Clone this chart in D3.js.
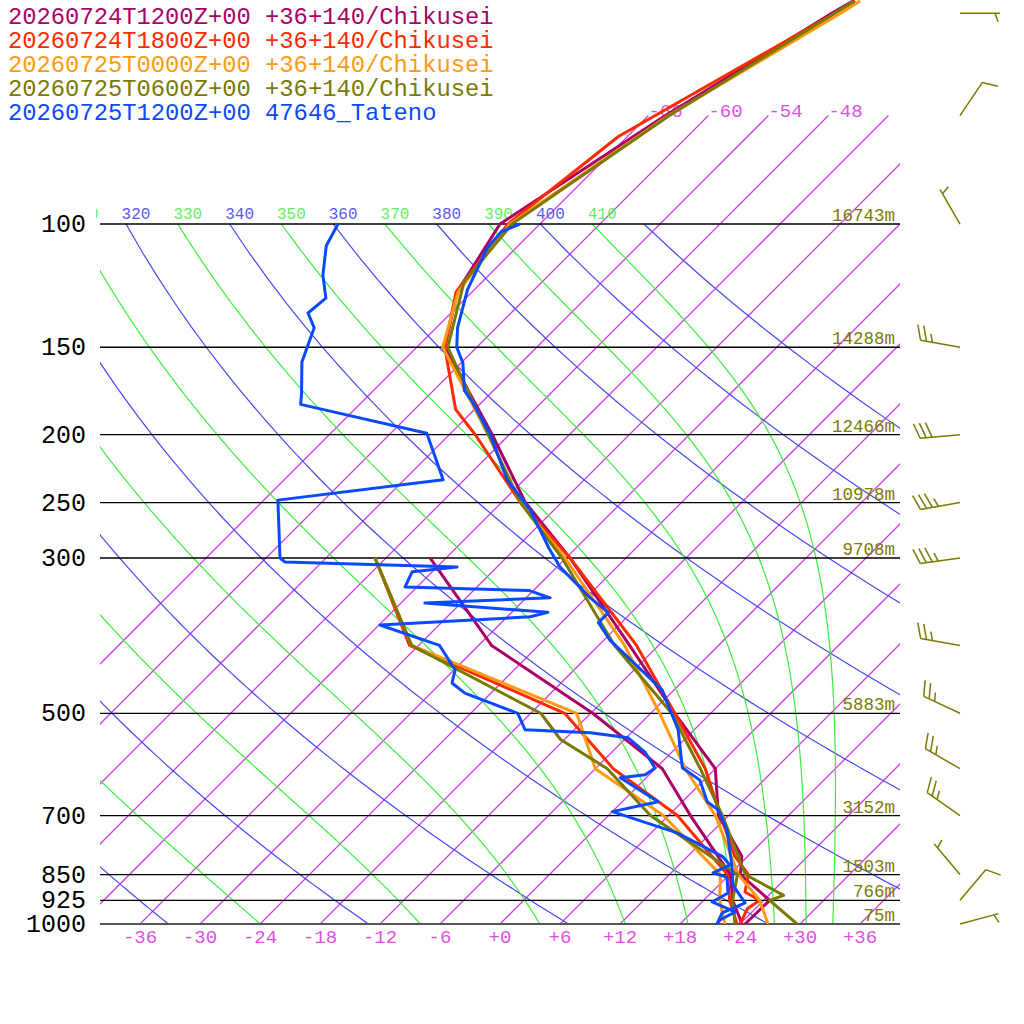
<!DOCTYPE html>
<html><head><meta charset="utf-8">
<script src="https://cdn.jsdelivr.net/npm/d3@7"></script>
<style>body{margin:0;background:#fff}svg{display:block}</style>
</head><body>
<svg id="c" width="1024" height="1024"></svg>
<script>
// ---------------- data ----------------
const legendLabels = [
  "20260724T1200Z+00 +36+140/Chikusei",
  "20260724T1800Z+00 +36+140/Chikusei",
  "20260725T0000Z+00 +36+140/Chikusei",
  "20260725T0600Z+00 +36+140/Chikusei",
  "20260725T1200Z+00 47646_Tateno"
];
const seriesColors = ["#aa0066", "#ff2a00", "#ff9a10", "#7a7a00", "#0a4aff"];

const pressureLevels = [100, 150, 200, 250, 300, 500, 700, 850, 925, 1000];
const heightLabels = ["16743m", "14288m", "12466m", "10978m", "9708m", "5883m", "3152m", "1503m", "766m", "75m"];
const tempTicks = [-36, -30, -24, -18, -12, -6, 0, 6, 12, 18, 24, 30, 36];
const topIsothermLabels = [-66, -60, -54, -48];
const dryThetas = [200, 220, 240, 260, 280, 300, 320, 340, 360, 380, 400, 420];
const moistThetas = [250, 270, 290, 310, 330, 350, 370, 390, 410];

// model temperature profiles [pressure hPa, T degC]
const crimsonT = [[1000,24.5],[925,24.6],[850,19.1],[800,17.4],[700,11.0],[600,6.0],[500,-3.6],[400,-14.9],[300,-29.6],[250,-39.6],[200,-49.7],[150,-63.2],[125,-67.5],[100,-70.0],[70,-64.3],[50,-57.9],[48,-57.0]];
const redT = [[1000,24.0],[950,23.2],[925,23.6],[900,21.3],[850,19.9],[800,16.7],[700,11.2],[600,5.0],[500,-3.6],[400,-14.2],[300,-29.6],[250,-40.1],[200,-51.4],[184,-55.9],[150,-63.2],[125,-67.6],[100,-69.2],[75,-66.9],[50,-57.6],[48,-56.8]];
const orangeT = [[1000,26.8],[925,23.6],[850,18.9],[700,10.7],[600,3.0],[500,-5.1],[400,-15.4],[300,-30.1],[250,-40.1],[200,-50.1],[150,-63.4],[125,-67.4],[100,-69.0],[70,-64.0],[50,-57.0],[48,-56.3]];
const oliveT = [[1000,29.7],[925,24.6],[910,25.5],[850,19.6],[700,11.4],[600,4.5],[500,-3.9],[400,-16.4],[300,-30.4],[250,-40.1],[200,-50.1],[150,-62.9],[121,-67.8],[100,-68.8],[70,-63.9],[50,-57.6],[48,-56.9]];
// model dewpoint profiles
const crimsonTd = [[1000,24.2],[925,20.9],[850,18.1],[700,8.2],[600,0.7],[500,-11.8],[400,-28.7],[300,-43.6]];
const redTd = [[1000,23.7],[925,20.6],[850,17.8],[700,6.9],[600,-4.2],[500,-14.6],[400,-36.9],[300,-49.1]];
const orangeTd = [[1000,22.5],[925,19.6],[850,17.1],[700,5.5],[600,-6.0],[500,-13.4],[400,-36.7],[300,-49.1]];
const oliveTd = [[1000,23.5],[925,20.9],[850,18.8],[700,4.2],[600,-4.8],[545,-12.4],[500,-17.0],[400,-36.7],[300,-49.1]];
// Tateno radiosonde
const tatenoT = [[1000,21.7],[964,21.1],[933,22.4],[880,19.4],[824,17.3],[734,13.3],[687,10.4],[669,8.5],[623,5.6],[598,2.6],[528,-1.6],[463,-7.2],[393,-17.4],[371,-20.3],[359,-20.3],[342,-23.6],[309,-29.7],[291,-32.6],[256,-38.4],[232,-43.7],[199,-50.1],[178,-55.4],[173,-56.9],[158,-59.8],[150,-62.0],[140.5,-63.9],[124,-66.7],[108,-68.9],[102.5,-69.1],[100,-68.0]];
const tatenoTd = [[1000,21.7],[987,21.6],[961,22.3],[930,19.0],[903,19.7],[857,18.0],[845.5,16.2],[824,17.1],[802,15.6],[741,8.6],[691,0.0],[669,3.6],[618,-2.6],[612,-0.4],[598.6,-0.1],[568,-2.7],[542,-5.8],[533,-10.1],[528,-16.9],[500,-19.3],[468,-26.6],[452.6,-28.9],[433.5,-29.9],[400,-33.9],[374,-41.9],[364,-27.7],[358.6,-26.4],[348,-39.6],[342,-27.6],[334,-30.4],[330,-43.2],[314,-44.0],[309,-40.0],[304,-57.7],[300,-58.6],[248,-64.6],[232,-50.1],[199,-56.4],[181,-71.9],[174.6,-72.9],[157.5,-76.0],[140.7,-78.2],[134,-80.3],[127.6,-80.0],[118.3,-82.6],[107.4,-85.2],[100,-86.2]];
// wind barbs [pressure, direction deg, speed kt]
const windP = [50, 70, 100, 150, 200, 250, 300, 400, 500, 600, 700, 850, 925, 1000];
const windDir = [90, 34, 330, 280, 265, 260, 262, 280, 295, 300, 305, 320, 40, 75];
const windSpd = [5, 10, 5, 25, 30, 35, 35, 25, 25, 25, 25, 5, 10, 5];

// ---------------- scales ----------------
const X0 = 100, X1 = 900, YB = 924;
const yScale = d3.scaleLog().domain([1000, 100]).range([924, 224]);
const xScale = d3.scaleLinear().domain([-40, 40]).range([100, 900]);
const X = (T, p) => xScale(T) + (YB - yScale(p));
const Y = p => yScale(p);

const svg = d3.select("#c");
const font = "'Liberation Mono', 'DejaVu Sans Mono', monospace";
const defs = svg.append("defs");
defs.append("clipPath").attr("id", "plotc")
  .append("rect").attr("x", X0).attr("y", 0).attr("width", X1 - X0).attr("height", YB);
defs.append("clipPath").attr("id", "plotlow")
  .append("rect").attr("x", X0).attr("y", 224).attr("width", X1 - X0).attr("height", YB - 224);
defs.append("clipPath").attr("id", "lab")
  .append("rect").attr("x", 96).attr("y", 190).attr("width", 810).attr("height", 40);

const line = d3.line().x(d => X(d[1], d[0])).y(d => Y(d[0]));

// isotherms (-66 and warmer)
const gIso = svg.append("g").attr("clip-path", "url(#plotc)");
d3.range(-66, 61, 6).forEach(T => {
  gIso.append("path").attr("d", line([[1000, T], [70, T]]))
    .attr("fill", "none").attr("stroke", "#d040e4").attr("stroke-width", 1.3);
});
topIsothermLabels.forEach(T => {
  svg.append("text").attr("x", X(T, 70)).attr("y", Y(70) + 1).text(String(T))
    .attr("font-family", font).attr("font-size", 19).attr("fill", "#e050e0");
});

// dry adiabats
const gAd = svg.append("g").attr("clip-path", "url(#plotlow)");
const lev = d3.range(100, 1001, 10);
dryThetas.forEach(th => {
  const pts = lev.map(p => [p, th * Math.pow(p / 1000, 0.2857) - 273.15]);
  gAd.append("path").attr("d", line(pts)).attr("stroke", "#4848f0").attr("stroke-width", 1.2).attr("fill", "none");
});
// moist (pseudo) adiabats integrated downward from 100 hPa
function moist(th) {
  const Rd = 287, Cp = 1004, Lv = 2.5e6, eps = 0.622;
  let T = th * Math.pow(0.1, 0.2857), pts = [];
  for (let p = 100; p <= 1000; p += 2) {
    pts.push([p, T - 273.15]);
    const Tc = T - 273.15, es = 6.112 * Math.exp(17.67 * Tc / (Tc + 243.5)), rs = eps * es / (p - es);
    const dTdp = (Rd * T + Lv * rs) / (p * (Cp + Lv * Lv * rs * eps / (Rd * T * T)));
    T += dTdp * 2;
  }
  return pts;
}
moistThetas.forEach(th => {
  gAd.append("path").attr("d", line(moist(th))).attr("stroke", "#3cee3c").attr("stroke-width", 1.2).attr("fill", "none");
});
// adiabat labels
const gLab = svg.append("g").attr("clip-path", "url(#lab)");
d3.range(310, 420, 10).forEach(th => {
  const T = th * Math.pow(0.1, 0.2857) - 273.15;
  gLab.append("text").attr("x", X(T, 100) + 10).attr("y", 219).attr("text-anchor", "middle")
    .text(th).attr("font-family", font).attr("font-size", 16)
    .attr("fill", (th / 10) % 2 === 0 ? "#5a5af0" : "#66ee66");
});

// pressure lines and labels
pressureLevels.forEach((p, i) => {
  svg.append("path").attr("d", `M${X0},${Y(p)}H${X1}`)
    .attr("stroke", p === 1000 ? "#555" : "#000").attr("stroke-width", p === 1000 ? 2 : 1.3);
  svg.append("text").attr("x", 86).attr("y", Y(p) + 8).attr("text-anchor", "end").text(p)
    .attr("font-family", font).attr("font-size", 25).attr("fill", "#000");
  svg.append("text").attr("x", 895).attr("y", Y(p) - 3).attr("text-anchor", "end").text(heightLabels[i])
    .attr("font-family", font).attr("font-size", 17.5).attr("fill", "#7a7a00");
});
tempTicks.forEach(T => {
  svg.append("text").attr("x", xScale(T)).attr("y", 943).attr("text-anchor", "middle")
    .text((T >= 0 ? "+" : "") + T).attr("font-family", font).attr("font-size", 19).attr("fill", "#e050e0");
});

// soundings
const gS = svg.append("g").attr("clip-path", "url(#plotc)");
const sets = [[crimsonT, crimsonTd], [redT, redTd], [orangeT, orangeTd], [oliveT, oliveTd], [tatenoT, tatenoTd]];
sets.forEach((s, i) => {
  s.forEach(arr => {
    gS.append("path").attr("d", line(arr)).attr("stroke", seriesColors[i]).attr("stroke-width", 3)
      .attr("fill", "none").attr("stroke-linejoin", "round");
  });
});

// legend
legendLabels.forEach((t, i) => {
  svg.append("text").attr("x", 8).attr("y", 24 + i * 24).text(t)
    .attr("font-family", font).attr("font-size", 23.8).attr("fill", seriesColors[i]);
});

// wind barbs
const gW = svg.append("g");
windP.forEach((p, i) => {
  const a = windDir[i] * Math.PI / 180, bx = 960, by = Y(p);
  const sx = Math.sin(a), sy = -Math.cos(a), L = 40;
  const tx = bx + sx * L, ty = by + sy * L;
  const seg = (x1, y1, x2, y2) => gW.append("path").attr("d", `M${x1},${y1}L${x2},${y2}`)
    .attr("stroke", "#7a7a00").attr("stroke-width", 1.5);
  seg(bx, by, tx, ty);
  const px = -sy, py = sx, ang = 70 * Math.PI / 180;
  const vx = px * Math.sin(ang) + sx * Math.cos(ang), vy = py * Math.sin(ang) + sy * Math.cos(ang);
  let pos = 0;
  const spd = windSpd[i], full = Math.floor(spd / 10), half = (spd % 10) >= 5 ? 1 : 0;
  for (let k = 0; k < full; k++) {
    const ox = tx - sx * pos, oy = ty - sy * pos;
    seg(ox, oy, ox + vx * 16, oy + vy * 16);
    pos += 6;
  }
  if (half) {
    if (full === 0) pos = 5;
    const ox = tx - sx * pos, oy = ty - sy * pos;
    seg(ox, oy, ox + vx * 9, oy + vy * 9);
  }
});
</script>
</body></html>
